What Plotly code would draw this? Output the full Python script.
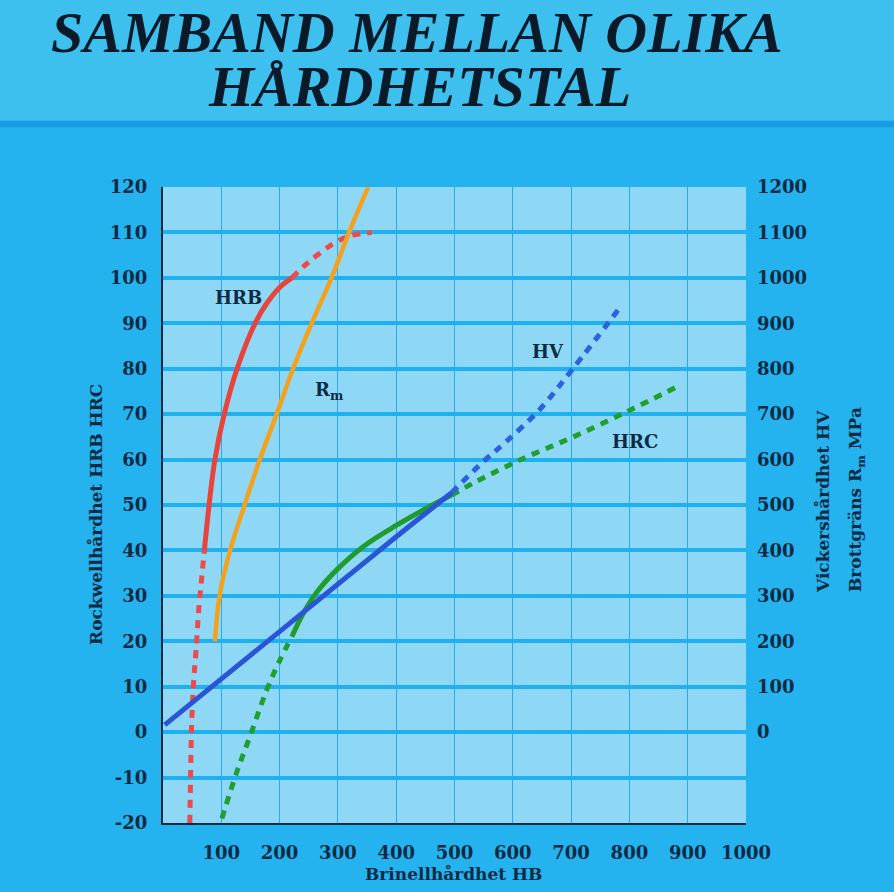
"""Samband mellan olika hårdhetstal: HB mot HRB, HRC, HV och Rm."""

import plotly.graph_objects as go

# ---- data ----------------------------------------------------------------
# HRB, left axis
hrb_low_hb = [46, 47.5, 49, 52, 56.6, 61.7, 66, 71]
hrb_low = [-20, -8.3, 1.2, 10, 18, 27.6, 33.5, 40]
hrb_mid_hb = [71, 79, 89, 105, 127, 158, 178, 201, 221]
hrb_mid = [40, 50, 60, 70, 80, 90, 94.4, 98, 100]
hrb_high_hb = [221, 250, 292, 322, 358]
hrb_high = [100, 103.5, 107.5, 109.3, 110]

# Rm (MPa), right axis
rm_hb = [89, 97, 115, 140, 166, 195, 223, 255, 289, 319, 352]
rm_mpa = [200, 300, 400, 500, 600, 700, 800, 900, 1000, 1100, 1200]

# HV, right axis
hv_solid_hb = [3, 100, 200, 300, 400, 495]
hv_solid = [16, 118, 222, 326, 430, 527]
hv_dash_hb = [495, 549, 589, 646, 703, 787]
hv_dash = [527, 595, 640, 710, 800, 940]

# HRC, left axis
hrc_low_hb = [101, 126, 149, 178, 201, 221]
hrc_low = [-19, -9, -1, 9.3, 16, 21]
hrc_mid_hb = [221, 240, 265, 300, 345, 400, 455, 495]
hrc_mid = [21, 26, 31, 36, 41, 45.5, 49.5, 52.2]
hrc_high_hb = [495, 532, 612, 704, 795, 881]
hrc_high = [52.2, 54.8, 59.9, 65, 70.5, 76]

left_ticks = list(range(-20, 121, 10))
left_labels = [str(v) for v in left_ticks]  # plain hyphen, not unicode minus
right_ticks = list(range(0, 1201, 100))
x_ticks = list(range(100, 1001, 100))

# ---- style -----------------------------------------------------------------
INK = "#0c2a42"
SERIF = "DejaVu Serif"
PAPER = "#24b3ef"
PLOT_BG = "#8fd8f5"
GRID_H = "#1fb0ef"
GRID_V = "#2aaaea"
DASH = "8px,7px"

RED = "#e8433c"
ORANGE = "#f4a11e"
BLUE = "#2a55d6"
GREEN = "#1f9c2c"

fig = go.Figure()


def add_line(xs, ys, color, dash="solid", width=5, axis="y", shape="spline"):
    fig.add_trace(
        go.Scatter(
            x=xs,
            y=ys,
            mode="lines",
            yaxis=axis,
            line=dict(color=color, width=width, dash=dash, shape=shape),
            hoverinfo="skip",
            showlegend=False,
        )
    )


add_line(hrb_low_hb, hrb_low, "#ef4a4a", DASH)
add_line(hrb_mid_hb, hrb_mid, RED)
add_line(hrb_high_hb, hrb_high, "#ef4a4a", DASH)

add_line(rm_hb, rm_mpa, ORANGE, width=4.5, axis="y2")

add_line(hv_solid_hb, hv_solid, BLUE, axis="y2", shape="linear")
add_line(hv_dash_hb, hv_dash, "#2a62e0", DASH, axis="y2")

add_line(hrc_low_hb, hrc_low, "#1fa02e", DASH)
add_line(hrc_mid_hb, hrc_mid, GREEN)
add_line(hrc_high_hb, hrc_high, "#1fa02e", DASH)

tick_font = dict(family=SERIF, size=18, color=INK, weight="bold")

fig.update_layout(
    width=894,
    height=892,
    margin=dict(l=163, r=148, t=187, b=69),
    paper_bgcolor=PAPER,
    plot_bgcolor=PLOT_BG,
    showlegend=False,
    xaxis=dict(
        range=[0, 1000],
        tickvals=x_ticks,
        tickfont=tick_font,
        showgrid=True,
        gridcolor=GRID_V,
        gridwidth=1.2,
        zeroline=False,
        showline=True,
        linecolor=INK,
        linewidth=2,
        ticklabelstandoff=12,
        fixedrange=True,
    ),
    yaxis=dict(
        range=[-20, 120],
        tickvals=left_ticks,
        ticktext=left_labels,
        tickfont=tick_font,
        showgrid=True,
        gridcolor=GRID_H,
        gridwidth=4,
        zeroline=False,
        showline=True,
        linecolor=INK,
        linewidth=2,
        ticklabelstandoff=10,
        fixedrange=True,
    ),
    yaxis2=dict(
        range=[-200, 1200],
        tickvals=right_ticks,
        tickfont=tick_font,
        overlaying="y",
        side="right",
        showgrid=False,
        zeroline=False,
        showline=False,
        ticklabelstandoff=10,
        fixedrange=True,
    ),
)

# header band
fig.add_shape(type="rect", xref="paper", yref="paper", x0=-0.3, x1=1.3, y0=1.1, y1=1.35,
              fillcolor="#3dc0ee", line_width=0, layer="below")
fig.add_shape(type="rect", xref="paper", yref="paper", x0=-0.3, x1=1.3, y0=1.094, y1=1.104,
              fillcolor="#1b9be3", line_width=0, layer="below")

title_font = dict(family="Liberation Serif", size=58, color="#0a1a28", weight="bold", style="italic")
fig.add_annotation(text="SAMBAND MELLAN OLIKA", xref="paper", yref="paper",
                   x=(417 - 163) / 583, y=(823 - 32) / 636, xanchor="center", yanchor="middle",
                   showarrow=False, font=title_font)
fig.add_annotation(text="HÅRDHETSTAL", xref="paper", yref="paper",
                   x=(419 - 163) / 583, y=(823 - 86) / 636, xanchor="center", yanchor="middle",
                   showarrow=False, font=title_font)

axis_title_font = dict(family=SERIF, size=17, color=INK, weight="bold")
fig.add_annotation(text="Brinellhårdhet HB", xref="paper", yref="paper",
                   x=(453 - 163) / 583, y=(823 - 874) / 636, xanchor="center", yanchor="middle",
                   showarrow=False, font=axis_title_font)
fig.add_annotation(text="Rockwellhårdhet HRB HRC", xref="paper", yref="paper",
                   x=(96 - 163) / 583, y=(823 - 515) / 636, xanchor="center", yanchor="middle",
                   textangle=-90, showarrow=False, font=axis_title_font)
fig.add_annotation(text="Vickershårdhet HV", xref="paper", yref="paper",
                   x=(823 - 163) / 583, y=(823 - 502) / 636, xanchor="center", yanchor="middle",
                   textangle=-90, showarrow=False, font=axis_title_font)
fig.add_annotation(text="Brottgräns R<sub>m</sub> MPa", xref="paper", yref="paper",
                   x=(857 - 163) / 583, y=(823 - 500) / 636, xanchor="center", yanchor="middle",
                   textangle=-90, showarrow=False, font=axis_title_font)

label_font = dict(family=SERIF, size=18, color=INK, weight="bold")
for txt, lx, ly in [("HRB", 129, 95.6), ("R<sub>m</sub>", 286, 75), ("HV", 660, 83.7), ("HRC", 810, 64)]:
    fig.add_annotation(text=txt, x=lx, y=ly, xref="x", yref="y", showarrow=False, font=label_font)

fig.write_html(
    "out.html",
    config={"displayModeBar": False},
    post_script="document.body.style.margin='0';document.body.style.overflow='hidden';",
)
